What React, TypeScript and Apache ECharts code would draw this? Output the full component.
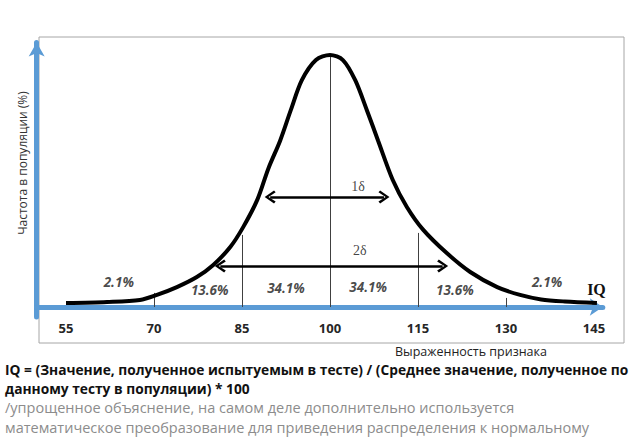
import React, { useEffect, useRef } from "react";
import * as echarts from "echarts";

// curve (frequency is relative, peak = 100)
const curveIQ = [55, 62, 67.6, 70.5, 73.9, 77.3, 80.1, 83.0, 85.2, 87.6, 89.5, 91.5, 93.3, 95.2, 97.6, 100, 102.2, 104.3, 106.3, 108.2, 110.7, 113.1, 115.9, 119.9, 123.9, 128.5, 132.4, 136, 140, 145.5];
const curveFreq = [1.6, 2.0, 2.8, 4.8, 7.9, 11.9, 16.7, 23.8, 31.7, 42.5, 55, 66, 78, 90, 98, 100, 98, 90, 78, 66, 50.4, 39.7, 30.6, 21.4, 13.9, 7.9, 4.8, 3.0, 2.2, 1.6];

const xTickValues = [55, 70, 85, 100, 115, 130, 145];

// vertical dividers under the curve
const dividerIQ = [70, 85, 100, 115, 130];
const dividerTop = [5.6, 28.6, 99.5, 29.4, 3.6];

// share of the population per band
const percentIQ = [64, 79.5, 92.5, 106.5, 121.3, 137];
const percentFreq = [9.9, 6.7, 7.5, 7.9, 6.7, 9.9];
const percentText = ["2.1%", "13.6%", "34.1%", "34.1%", "13.6%", "2.1%"];

// sigma arrows
const sigmaStart = [89.8, 81.3];
const sigmaEnd = [109.2, 119.2];
const sigmaFreq = [43.7, 16.3];
const sigmaLabelIQ = [104.8, 105.1];
const sigmaLabelFreq = [48, 22.6];
const sigmaText = ["1δ", "2δ"];

const yName = "Частота в популяции (%)";
const xCaption = "Выраженность признака";
const formulaLines = [
  "IQ = (Значение, полученное испытуемым в тесте) / (Среднее значение, полученное по",
  "данному тесту в популяции) * 100",
];
const noteLines = [
  "/упрощенное объяснение, на самом деле дополнительно используется",
  "математическое преобразование для приведения распределения к нормальному",
];

const SANS = "'Open Sans', 'Noto Sans', sans-serif";
const SERIF = "'Liberation Serif', 'DejaVu Serif', serif";
const BLUE = "#5b9bd5";
const CHEVRON = "path://M0,17 L10,0 L20,17 L17,20 L10,7 L3,20 Z";

export default function App() {
  const chartRef = useRef<HTMLDivElement>(null);

  useEffect(() => {
    if (!chartRef.current) return;
    const chart = echarts.init(chartRef.current, null, { renderer: "svg" });

    const option: echarts.EChartsOption = {
      animation: false,
      backgroundColor: "#fff",
      grid: { left: 36.67, right: 37.2, top: 42.4, bottom: 122.9 },
      xAxis: {
        type: "value",
        min: 50,
        max: 146.5,
        axisLine: {
          onZero: true,
          symbol: ["none", "arrow"],
          symbolSize: [13, 13],
          lineStyle: { color: BLUE, width: 5 },
        },
        axisTick: { show: false },
        splitLine: { show: false },
        axisLabel: {
          customValues: xTickValues,
          fontFamily: SANS,
          fontWeight: "bold",
          fontSize: 13,
          color: "#262626",
          margin: 4,
        },
        name: "IQ",
        nameLocation: "end",
        nameGap: 3,
        nameTextStyle: {
          fontFamily: SERIF,
          fontWeight: "bold",
          fontSize: 16,
          color: "#111",
          align: "right",
          verticalAlign: "bottom",
          padding: [0, 0, 10, 0],
        },
      },
      yAxis: {
        type: "value",
        min: -4,
        max: 105,
        axisLine: {
          show: true,
          symbol: ["none", "arrow"],
          symbolSize: [12, 14],
          lineStyle: { color: BLUE, width: 5 },
        },
        axisTick: { show: false },
        axisLabel: { show: false },
        splitLine: { show: false },
      },
      graphic: [
        {
          type: "rect",
          z: -10,
          shape: { x: 39, y: 37, width: 585, height: 306 },
          style: { fill: "none", stroke: "#a6a6a6", lineWidth: 1 },
        },
        {
          type: "text",
          x: 22,
          y: 163,
          rotation: Math.PI / 2,
          style: {
            text: yName,
            fontFamily: SANS,
            fontSize: 12,
            fill: "#333",
            align: "center",
            verticalAlign: "middle",
          },
        },
        {
          type: "text",
          x: 395,
          y: 351,
          style: {
            text: xCaption,
            fontFamily: SANS,
            fontSize: 12.5,
            fill: "#222",
            align: "left",
            verticalAlign: "middle",
          },
        },
        ...formulaLines.map((t, i) => ({
          type: "text" as const,
          x: 5,
          y: 369 + i * 19,
          style: {
            text: t,
            fontFamily: SANS,
            fontWeight: "bold" as const,
            fontSize: 13.75,
            fill: "#111",
            align: "left" as const,
            verticalAlign: "middle" as const,
          },
        })),
        ...noteLines.map((t, i) => ({
          type: "text" as const,
          x: 5,
          y: 407 + i * 20,
          style: {
            text: t,
            fontFamily: SANS,
            fontSize: 14.5,
            fill: "#8c8c8c",
            align: "left" as const,
            verticalAlign: "middle" as const,
          },
        })),
      ],
      series: [
        {
          name: "dividers",
          type: "line",
          data: [],
          silent: true,
          markLine: {
            silent: true,
            symbol: ["none", "none"],
            label: { show: false },
            lineStyle: { color: "#404040", width: 1, type: "solid" },
            emphasis: { disabled: true },
            data: dividerIQ.map((x, i) => [
              { coord: [x, 0] },
              { coord: [x, dividerTop[i]] },
            ]) as any,
          },
        },
        {
          name: "arrows",
          type: "line",
          data: [],
          silent: true,
          markLine: {
            silent: true,
            symbol: [CHEVRON, CHEVRON],
            symbolSize: [13, 11],
            label: { show: false },
            itemStyle: { color: "#000" },
            lineStyle: { color: "#000", width: 2.5, type: "solid" },
            emphasis: { disabled: true },
            data: sigmaStart.map((s, i) => [
              { coord: [s, sigmaFreq[i]] },
              { coord: [sigmaEnd[i], sigmaFreq[i]] },
            ]) as any,
          },
        },
        {
          name: "IQ",
          type: "line",
          smooth: 0.3,
          symbol: "none",
          silent: true,
          lineStyle: { color: "#000", width: 4 },
          data: curveIQ.map((x, i) => [x, curveFreq[i]]),
          z: 5,
        },
        {
          name: "percent",
          type: "scatter",
          symbolSize: 1,
          silent: true,
          itemStyle: { color: "rgba(0,0,0,0)" },
          label: {
            show: true,
            position: "inside",
            formatter: (p: any) => p.value[2],
            fontFamily: SANS,
            fontStyle: "italic",
            fontWeight: "bold",
            fontSize: 13.5,
            color: "#1a1a1a",
          },
          data: percentIQ.map((x, i) => [x, percentFreq[i], percentText[i]]),
        },
        {
          name: "sigma",
          type: "scatter",
          symbolSize: 1,
          silent: true,
          itemStyle: { color: "rgba(0,0,0,0)" },
          label: {
            show: true,
            position: "inside",
            formatter: (p: any) => p.value[2],
            fontFamily: SERIF,
            fontSize: 14,
            color: "#111",
          },
          data: sigmaLabelIQ.map((x, i) => [x, sigmaLabelFreq[i], sigmaText[i]]),
        },
      ],
    };

    chart.setOption(option);

    return () => {
      chart.dispose();
    };
  }, []);

  return (
    <div
      ref={chartRef}
      style={{ position: "absolute", left: 0, top: 0, width: 640, height: 440, background: "#fff" }}
    />
  );
}
